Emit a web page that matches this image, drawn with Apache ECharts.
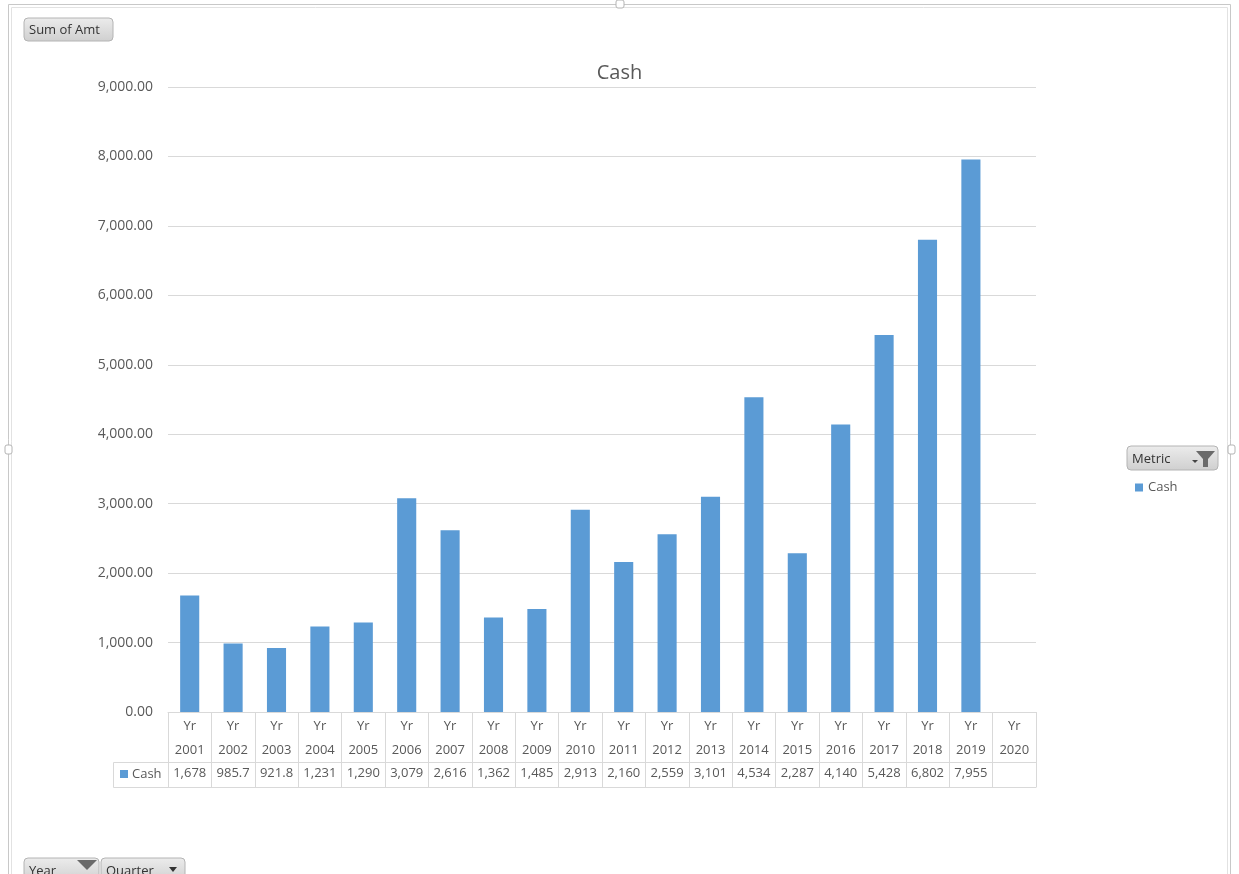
<!DOCTYPE html>
<html>
<head>
<meta charset="utf-8">
<script src="https://cdn.jsdelivr.net/npm/echarts@6/dist/echarts.min.js"></script>
<style>
  html, body { margin: 0; padding: 0; background: #fff; }
  #chart { width: 1239px; height: 874px; }
</style>
</head>
<body>
<div id="chart"></div>
<script>
// data
const years = ['2001', '2002', '2003', '2004', '2005', '2006', '2007', '2008', '2009', '2010',
  '2011', '2012', '2013', '2014', '2015', '2016', '2017', '2018', '2019', '2020']
const cash = [1678, 985.7, 921.8, 1231, 1290, 3079, 2616, 1362, 1485, 2913,
  2160, 2559, 3101, 4534, 2287, 4140, 5428, 6802, 7955, null]
const yTicks = { min: 0, max: 9000, interval: 1000 }

const FONT = '"Open Sans", "Noto Sans", sans-serif'
const GRID_COLOR = '#d9d9d9'
const TEXT_COLOR = '#595959'
const BAR_COLOR = '#5b9bd5'

// same look as the data table in the sheet: 4 significant digits
function tableLabel (v) {
  if (v === null || v === undefined) return ''
  if (v >= 1000) return Math.round(v).toLocaleString('en-US')
  return v.toFixed(1)
}

function button (x, y, w, h, text, extra) {
  const children = [
    {
      type: 'rect',
      shape: { x: x, y: y, width: w, height: h, r: 4 },
      style: {
        fill: new echarts.graphic.LinearGradient(0, 0, 0, 1, [
          { offset: 0, color: '#ececec' },
          { offset: 1, color: '#cfcfcf' }
        ]),
        stroke: '#b4b4b4',
        lineWidth: 1
      }
    },
    {
      type: 'text',
      x: x + 5,
      y: y + h / 2 + 1,
      style: { text: text, font: '13px ' + FONT, fill: '#333', verticalAlign: 'middle' }
    }
  ]
  return children.concat(extra || [])
}

const chart = echarts.init(document.getElementById('chart'))
window.addEventListener('resize', function () {
  chart.resize()
})

const option = {
  animation: false,
  backgroundColor: '#fff',
  textStyle: { fontFamily: FONT },
  title: {
    text: 'Cash',
    left: 'center',
    top: 58,
    textStyle: { fontSize: 20, fontWeight: 'normal', color: TEXT_COLOR, fontFamily: FONT }
  },
  legend: {
    data: ['Cash'],
    left: 1130,
    top: 476,
    icon: 'rect',
    itemWidth: 8,
    itemHeight: 8,
    itemGap: 4,
    textStyle: { fontSize: 13, color: TEXT_COLOR, fontFamily: FONT }
  },
  grid: { left: 168, right: 203, top: 87, bottom: 162, containLabel: false },
  xAxis: [
    {
      type: 'category',
      data: years,
      position: 'bottom',
      axisLine: { show: true, lineStyle: { color: GRID_COLOR } },
      axisTick: { show: true, length: 75, lineStyle: { color: GRID_COLOR } },
      axisLabel: {
        interval: 0,
        margin: 2,
        fontSize: 13,
        lineHeight: 24,
        color: TEXT_COLOR,
        formatter: function (v) { return 'Yr\n' + v }
      }
    },
    {
      type: 'category',
      data: years,
      position: 'bottom',
      offset: 50,
      axisLine: { show: true, lineStyle: { color: GRID_COLOR } },
      axisTick: { show: false },
      axisLabel: {
        interval: 0,
        margin: 5,
        fontSize: 13,
        color: TEXT_COLOR,
        formatter: function (v, i) { return tableLabel(cash[i]) }
      }
    }
  ],
  yAxis: {
    type: 'value',
    min: yTicks.min,
    max: yTicks.max,
    interval: yTicks.interval,
    axisLine: { show: false },
    axisTick: { show: false },
    splitLine: { lineStyle: { color: GRID_COLOR } },
    axisLabel: {
      margin: 15,
      fontSize: 14,
      color: TEXT_COLOR,
      formatter: function (v) {
        return v.toLocaleString('en-US', { minimumFractionDigits: 2, maximumFractionDigits: 2 })
      }
    }
  },
  series: [
    {
      name: 'Cash',
      type: 'bar',
      data: cash,
      barWidth: '44%',
      itemStyle: { color: BAR_COLOR }
    }
  ],
  graphic: [
    // outer frame of the chart object
    {
      type: 'rect',
      shape: { x: 8.5, y: 4.5, width: 1222, height: 900 },
      style: { fill: null, stroke: '#c8c8c8', lineWidth: 1 }
    },
    {
      type: 'rect',
      shape: { x: 11.5, y: 7.5, width: 1216, height: 900 },
      style: { fill: null, stroke: '#e2e2e2', lineWidth: 1 }
    },
    { type: 'rect', shape: { x: 616, y: 0, width: 8, height: 8, r: 2 }, style: { fill: '#fff', stroke: '#b4b4b4' } },
    { type: 'rect', shape: { x: 5, y: 445, width: 7, height: 9, r: 2 }, style: { fill: '#fff', stroke: '#b4b4b4' } },
    { type: 'rect', shape: { x: 1228, y: 445, width: 7, height: 9, r: 2 }, style: { fill: '#fff', stroke: '#b4b4b4' } },
    // data table: legend key column
    { type: 'line', shape: { x1: 113.5, y1: 762.5, x2: 168.5, y2: 762.5 }, style: { stroke: GRID_COLOR } },
    { type: 'line', shape: { x1: 113.5, y1: 787.5, x2: 1036.5, y2: 787.5 }, style: { stroke: GRID_COLOR } },
    { type: 'line', shape: { x1: 113.5, y1: 762.5, x2: 113.5, y2: 787.5 }, style: { stroke: GRID_COLOR } },
    { type: 'rect', shape: { x: 120, y: 770, width: 8, height: 8 }, style: { fill: BAR_COLOR } },
    { type: 'text', x: 132, y: 774.5, style: { text: 'Cash', font: '13px ' + FONT, fill: TEXT_COLOR, verticalAlign: 'middle' } },
    // pivot field buttons
    { type: 'group', children: button(24, 18, 89, 23, 'Sum of Amt') },
    {
      type: 'group',
      children: button(1127, 446, 91, 24, 'Metric', [
        { type: 'polygon', shape: { points: [[1192, 460], [1198, 460], [1195, 463]] }, style: { fill: '#444' } },
        { type: 'polygon', shape: { points: [[1196, 451], [1215, 451], [1208, 459], [1208, 467], [1203, 467], [1203, 459]] }, style: { fill: '#6a6a6a' } }
      ])
    },
    {
      type: 'group',
      children: button(24, 858, 75, 24, 'Year', [
        { type: 'polygon', shape: { points: [[77, 860], [97, 860], [87, 870]] }, style: { fill: '#6a6a6a' } }
      ])
    },
    {
      type: 'group',
      children: button(101, 858, 84, 24, 'Quarter', [
        { type: 'polygon', shape: { points: [[169, 867], [177, 867], [173, 872]] }, style: { fill: '#333' } }
      ])
    }
  ]
}

chart.setOption(option)
</script>
</body>
</html>
